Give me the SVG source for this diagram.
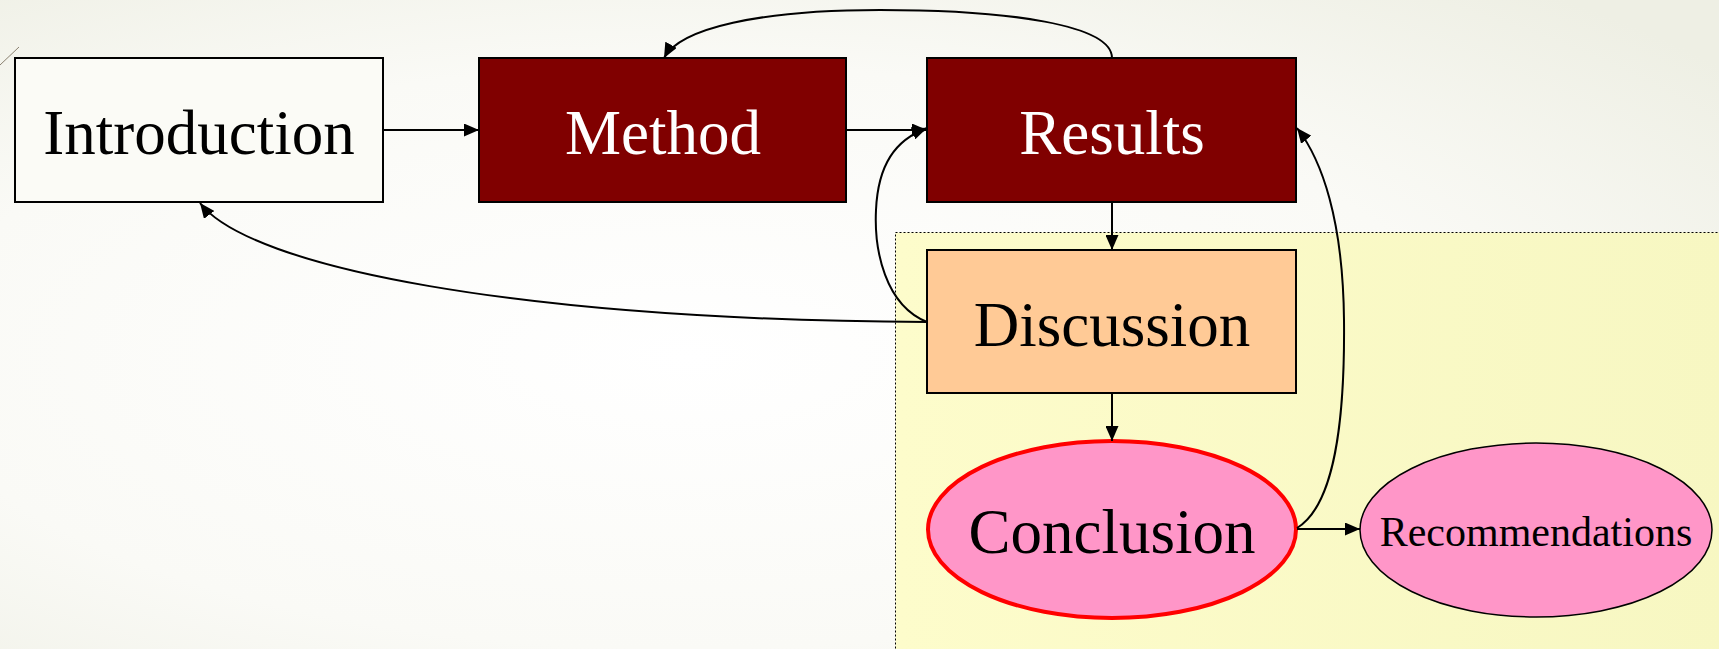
<svg xmlns="http://www.w3.org/2000/svg" width="1719" height="649" viewBox="0 0 1719 649">
<defs>
<radialGradient id="bg" cx="0.4" cy="0.55" r="0.75">
<stop offset="0" stop-color="#ffffff"/>
<stop offset="0.6" stop-color="#fafaf6"/>
<stop offset="1" stop-color="#eeefe4"/>
</radialGradient>
<linearGradient id="cl" x1="0" y1="0" x2="1" y2="0">
<stop offset="0" stop-color="#fdfccb"/>
<stop offset="1" stop-color="#f7f7c2"/>
</linearGradient>
<marker id="ah" viewBox="0 0 15 13" refX="15" refY="6.5" markerWidth="15" markerHeight="13" markerUnits="userSpaceOnUse" orient="auto">
<path d="M0,0 L15,6.5 L0,13 Z" fill="#000"/>
</marker>
<style>
.lbl{font-family:"Liberation Serif","Times New Roman",serif;font-size:63px;text-anchor:middle}
.edge{fill:none;stroke:#000;stroke-width:2;marker-end:url(#ah)}
.box{stroke:#000;stroke-width:2}
</style>
</defs>
<rect x="0" y="0" width="1719" height="649" fill="url(#bg)"/>
<line x1="0" y1="65" x2="19" y2="47" stroke="#8a8070" stroke-width="1"/>
<g id="cluster">
<rect x="895.5" y="232.5" width="830" height="430" fill="url(#cl)" stroke="#000" stroke-width="1" stroke-dasharray="2,2"/>
</g>
<g id="introduction">
<rect class="box" x="15" y="58" width="368" height="144" fill="#fbfbf6"/>
<text class="lbl" x="199" y="154">Introduction</text>
</g>
<g id="method">
<rect class="box" x="479" y="58" width="367" height="144" fill="#800000"/>
<text class="lbl" x="663" y="154" fill="#ffffff">Method</text>
</g>
<g id="results">
<rect class="box" x="927" y="58" width="369" height="144" fill="#800000"/>
<text class="lbl" x="1112" y="154" fill="#ffffff">Results</text>
</g>
<g id="discussion">
<rect class="box" x="927" y="250" width="369" height="143" fill="#ffca96"/>
<text class="lbl" x="1112" y="346">Discussion</text>
</g>
<g id="conclusion">
<ellipse cx="1112" cy="529.5" rx="184" ry="88.5" fill="#ff96c8" stroke="#ff0000" stroke-width="4"/>
<text class="lbl" x="1112" y="553">Conclusion</text>
</g>
<g id="recommendations">
<ellipse cx="1536" cy="530" rx="176" ry="87" fill="#ff96c8" stroke="#000" stroke-width="1.5"/>
<text class="lbl" x="1536" y="546" style="font-size:42px">Recommendations</text>
</g>
<g id="connectors">
<path class="edge" d="M383,130 L479,130"/>
<path class="edge" d="M846,130 L927,130"/>
<path class="edge" d="M1112,58 C1112,25 1010,10 880,10 C760,10 680,28 664,58"/>
<path class="edge" d="M1112,202 L1112,250"/>
<path class="edge" d="M1112,393 L1112,441"/>
<path class="edge" d="M927,322 C885,305 874,250 876,210 C878,165 895,140 927,128"/>
<path class="edge" d="M927,322 C520,320 250,268 200,203"/>
<path class="edge" d="M1297,528 C1335,505 1345,420 1344,320 C1343,220 1322,160 1297,128"/>
<path class="edge" d="M1297,529 L1360,529"/>
</g>
</svg>
